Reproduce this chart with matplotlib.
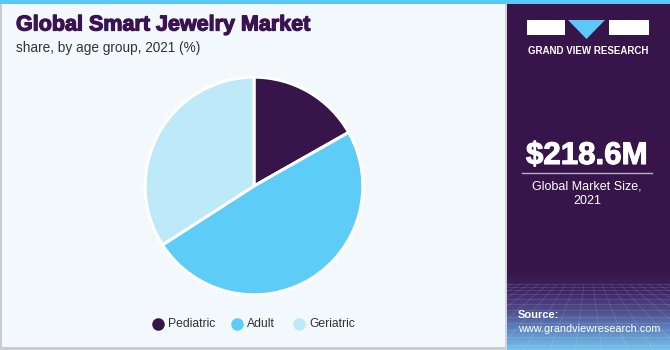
import numpy as np
import matplotlib.pyplot as plt
import matplotlib.patheffects as pe
from matplotlib.patches import Rectangle, Polygon
from matplotlib.colors import LinearSegmentedColormap

plt.rcParams["font.family"] = ["Liberation Sans", "DejaVu Sans"]

# data
segments = ["Pediatric", "Adult", "Geriatric"]
shares = [16.8, 49.1, 34.1]
colors = ["#371449", "#5DCCF6", "#BDE9F9"]

title = "Global Smart Jewelry Market"
subtitle = "share, by age group, 2021 (%)"
market_size = "$218.6M"
market_label = "Global Market Size,\n2021"

W, H = 670, 350
fig = plt.figure(figsize=(W / 100, H / 100), dpi=100)
fig.patch.set_facecolor("#F3F8FC")


def px(x, y):
    # pixel coords (from top-left) -> figure fraction
    return x / W, 1 - y / H


def box(x0, y0, x1, y1, **kw):
    fig.patches.append(Rectangle(px(x0, y1), (x1 - x0) / W, (y1 - y0) / H,
                                 transform=fig.transFigure, **kw))


# panels
box(0, 0, 1.5, 350, facecolor="#C8CCD0", edgecolor="none", zorder=1)
box(0, 347, 505, 350, facecolor="#C8CCD0", edgecolor="none", zorder=1)
box(505, 0, 507, 350, facecolor="#D0D4D8", edgecolor="none", zorder=1)
box(507, 0, 670, 350, facecolor="#371449", edgecolor="none", zorder=1)
box(0, 0, 670, 4, facecolor="#5BC8F5", edgecolor="none", zorder=2)

# bottom gradient of side panel
gax = fig.add_axes([507 / W, 0, (670 - 507) / W, (350 - 270) / H])
gax.set_zorder(2.5)
grad_cmap = LinearSegmentedColormap.from_list(
    "g", ["#371449", "#3E2463", "#4E4A8A", "#5F86C0", "#74C2EE"])
gax.imshow(np.linspace(0, 1, 100).reshape(-1, 1), aspect="auto", cmap=grad_cmap,
           extent=[0, 1, 0, 1], origin="upper")
# faint perspective mesh
for t in np.linspace(-1.5, 2.5, 26):
    gax.plot([0.5 + (t - 0.5) * 0.35, t], [0.82, 0], color="white", lw=0.5, alpha=0.15)
for v in np.linspace(0, 0.82, 12) ** 1.4:
    gax.plot([0, 1], [0.82 - v, 0.82 - v], color="white", lw=0.5, alpha=0.15)
gax.set_xlim(0, 1)
gax.set_ylim(0, 1)
gax.axis("off")

# logo
box(527, 20, 565, 35, facecolor="white", edgecolor="none", zorder=3)
box(609, 20, 649, 35, facecolor="white", edgecolor="none", zorder=3)
fig.patches.append(Polygon([px(568, 20), px(605, 20), px(586.5, 39)], closed=True,
                           transform=fig.transFigure, facecolor="#5BC8F5",
                           edgecolor="none", zorder=3))
fig.text(*px(588, 51), "GRAND VIEW RESEARCH", color="white", fontsize=7,
         fontweight="bold", ha="center", va="center", zorder=4)

# market size
fig.text(*px(587, 156), market_size, color="white", fontsize=22.5,
         fontweight="bold", ha="center", va="center", zorder=4,
         path_effects=[pe.withStroke(linewidth=0.8, foreground="white")])
fig.lines.append(plt.Line2D([522 / W, 652 / W], [1 - 173 / H, 1 - 173 / H],
                            transform=fig.transFigure, color="#B8B0C4", lw=1, zorder=4))
fig.text(*px(587, 194), market_label, color="white", fontsize=9,
         ha="center", va="center", linespacing=1.3, zorder=4)

# source
fig.text(*px(518, 315), "Source:", color="white", fontsize=8,
         fontweight="bold", ha="left", va="center", zorder=4)
fig.text(*px(518, 329), "www.grandviewresearch.com", color="white", fontsize=7.8,
         ha="left", va="center", zorder=4)

# titles
fig.text(*px(16, 25), title, color="#3A1350", fontsize=15.5, fontweight="bold",
         ha="left", va="center",
         path_effects=[pe.withStroke(linewidth=0.9, foreground="#3A1350")])
fig.text(*px(16, 48), subtitle, color="#333333", fontsize=9.8, ha="left", va="center")

# pie
cx, cy, r = 254, 186, 111
ax = fig.add_axes([(cx - r) / W, (H - cy - r) / H, 2 * r / W, 2 * r / H])
ax.set_zorder(3)
ax.pie(shares, colors=colors, startangle=90, counterclock=False, radius=1,
       wedgeprops=dict(edgecolor="white", linewidth=2.2))
ax.set_xlim(-1.02, 1.02)
ax.set_ylim(-1.02, 1.02)
ax.set_aspect("equal")
ax.axis("off")

# legend
leg_x = [158, 237, 299]
for lx, name, c in zip(leg_x, segments, colors):
    fig.lines.append(plt.Line2D([lx / W], [1 - 324 / H], marker="o", markersize=8,
                                color=c, transform=fig.transFigure, lw=0))
    fig.text(*px(lx + 10, 324), name, color="#333333", fontsize=8.7,
             ha="left", va="center")

fig.savefig("out.png", dpi=100, facecolor=fig.get_facecolor())
